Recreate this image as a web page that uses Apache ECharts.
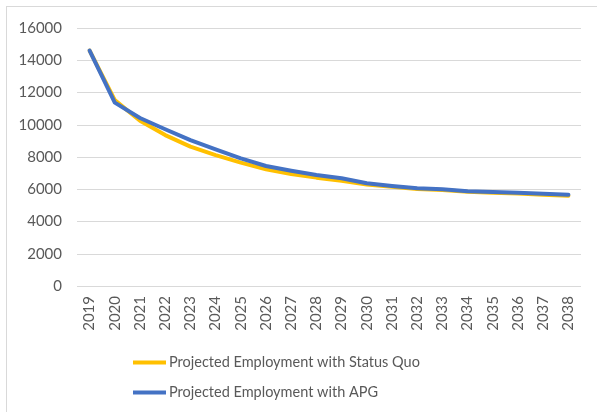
<!DOCTYPE html>
<html>
<head>
<meta charset="utf-8">
<script src="https://cdn.jsdelivr.net/npm/echarts@6/dist/echarts.min.js"></script>
<style>
  html, body { margin: 0; padding: 0; background: #fff; overflow: hidden; }
  #frame { position: absolute; left: 6px; top: 6px; width: 620px; height: 440px; border: 1px solid #d9d9d9; }
  #main { position: absolute; left: 0; top: 0; width: 597px; height: 412px; }
</style>
</head>
<body>
<div id="frame"></div>
<div id="main"></div>
<script>
const years = ["2019", "2020", "2021", "2022", "2023", "2024", "2025", "2026", "2027", "2028",
  "2029", "2030", "2031", "2032", "2033", "2034", "2035", "2036", "2037", "2038"];

const statusQuo = [14600, 11530, 10250, 9360, 8640, 8120, 7650, 7240, 6950, 6720,
  6530, 6290, 6150, 6020, 5960, 5840, 5790, 5740, 5660, 5600];

const withApg = [14600, 11370, 10420, 9720, 9050, 8480, 7920, 7440, 7150, 6880,
  6680, 6370, 6200, 6060, 6000, 5870, 5830, 5790, 5720, 5660];

const yTicks = [0, 2000, 4000, 6000, 8000, 10000, 12000, 14000, 16000];

const textColor = "#595959";
const fontFamily = "Lato, 'Open Sans', sans-serif";

function chartOption() {
  return {
    animation: false,
    textStyle: { fontFamily: fontFamily },
    grid: { left: 77, right: 16, top: 28, bottom: 126, containLabel: false },
    legend: {
      orient: "vertical",
      left: 128,
      top: 350,
      itemGap: 15,
      itemWidth: 33,
      itemHeight: 4,
      icon: "rect",
      textStyle: { color: textColor, fontSize: 14.5, fontFamily: fontFamily, padding: [0, 0, 0, -2] },
      data: ["Projected Employment with Status Quo", "Projected Employment with APG"],
    },
    xAxis: {
      type: "category",
      data: years,
      boundaryGap: true,
      axisLine: { show: false },
      axisTick: { show: false },
      axisLabel: { rotate: 90, color: textColor, fontSize: 15, margin: 10, interval: 0 },
    },
    yAxis: {
      type: "value",
      min: yTicks[0],
      max: yTicks[yTicks.length - 1],
      interval: 2000,
      axisLine: { show: false },
      axisTick: { show: false },
      axisLabel: { color: textColor, fontSize: 15, margin: 15, formatter: (v) => String(v) },
      splitLine: { lineStyle: { color: "#d9d9d9", width: 1 } },
    },
    series: [
      {
        name: "Projected Employment with Status Quo",
        type: "line",
        data: statusQuo,
        symbol: "none",
        color: "#FFC000",
        lineStyle: { width: 4, color: "#FFC000", cap: "round", join: "round" },
        z: 2,
      },
      {
        name: "Projected Employment with APG",
        type: "line",
        data: withApg,
        symbol: "none",
        color: "#4472C4",
        lineStyle: { width: 4, color: "#4472C4", cap: "round", join: "round" },
        z: 3,
      },
    ],
  };
}

function onLoad() {
  const chart = echarts.init(document.getElementById("main"));
  chart.setOption(chartOption());
}

addEventListener("load", onLoad);
</script>
</body>
</html>
